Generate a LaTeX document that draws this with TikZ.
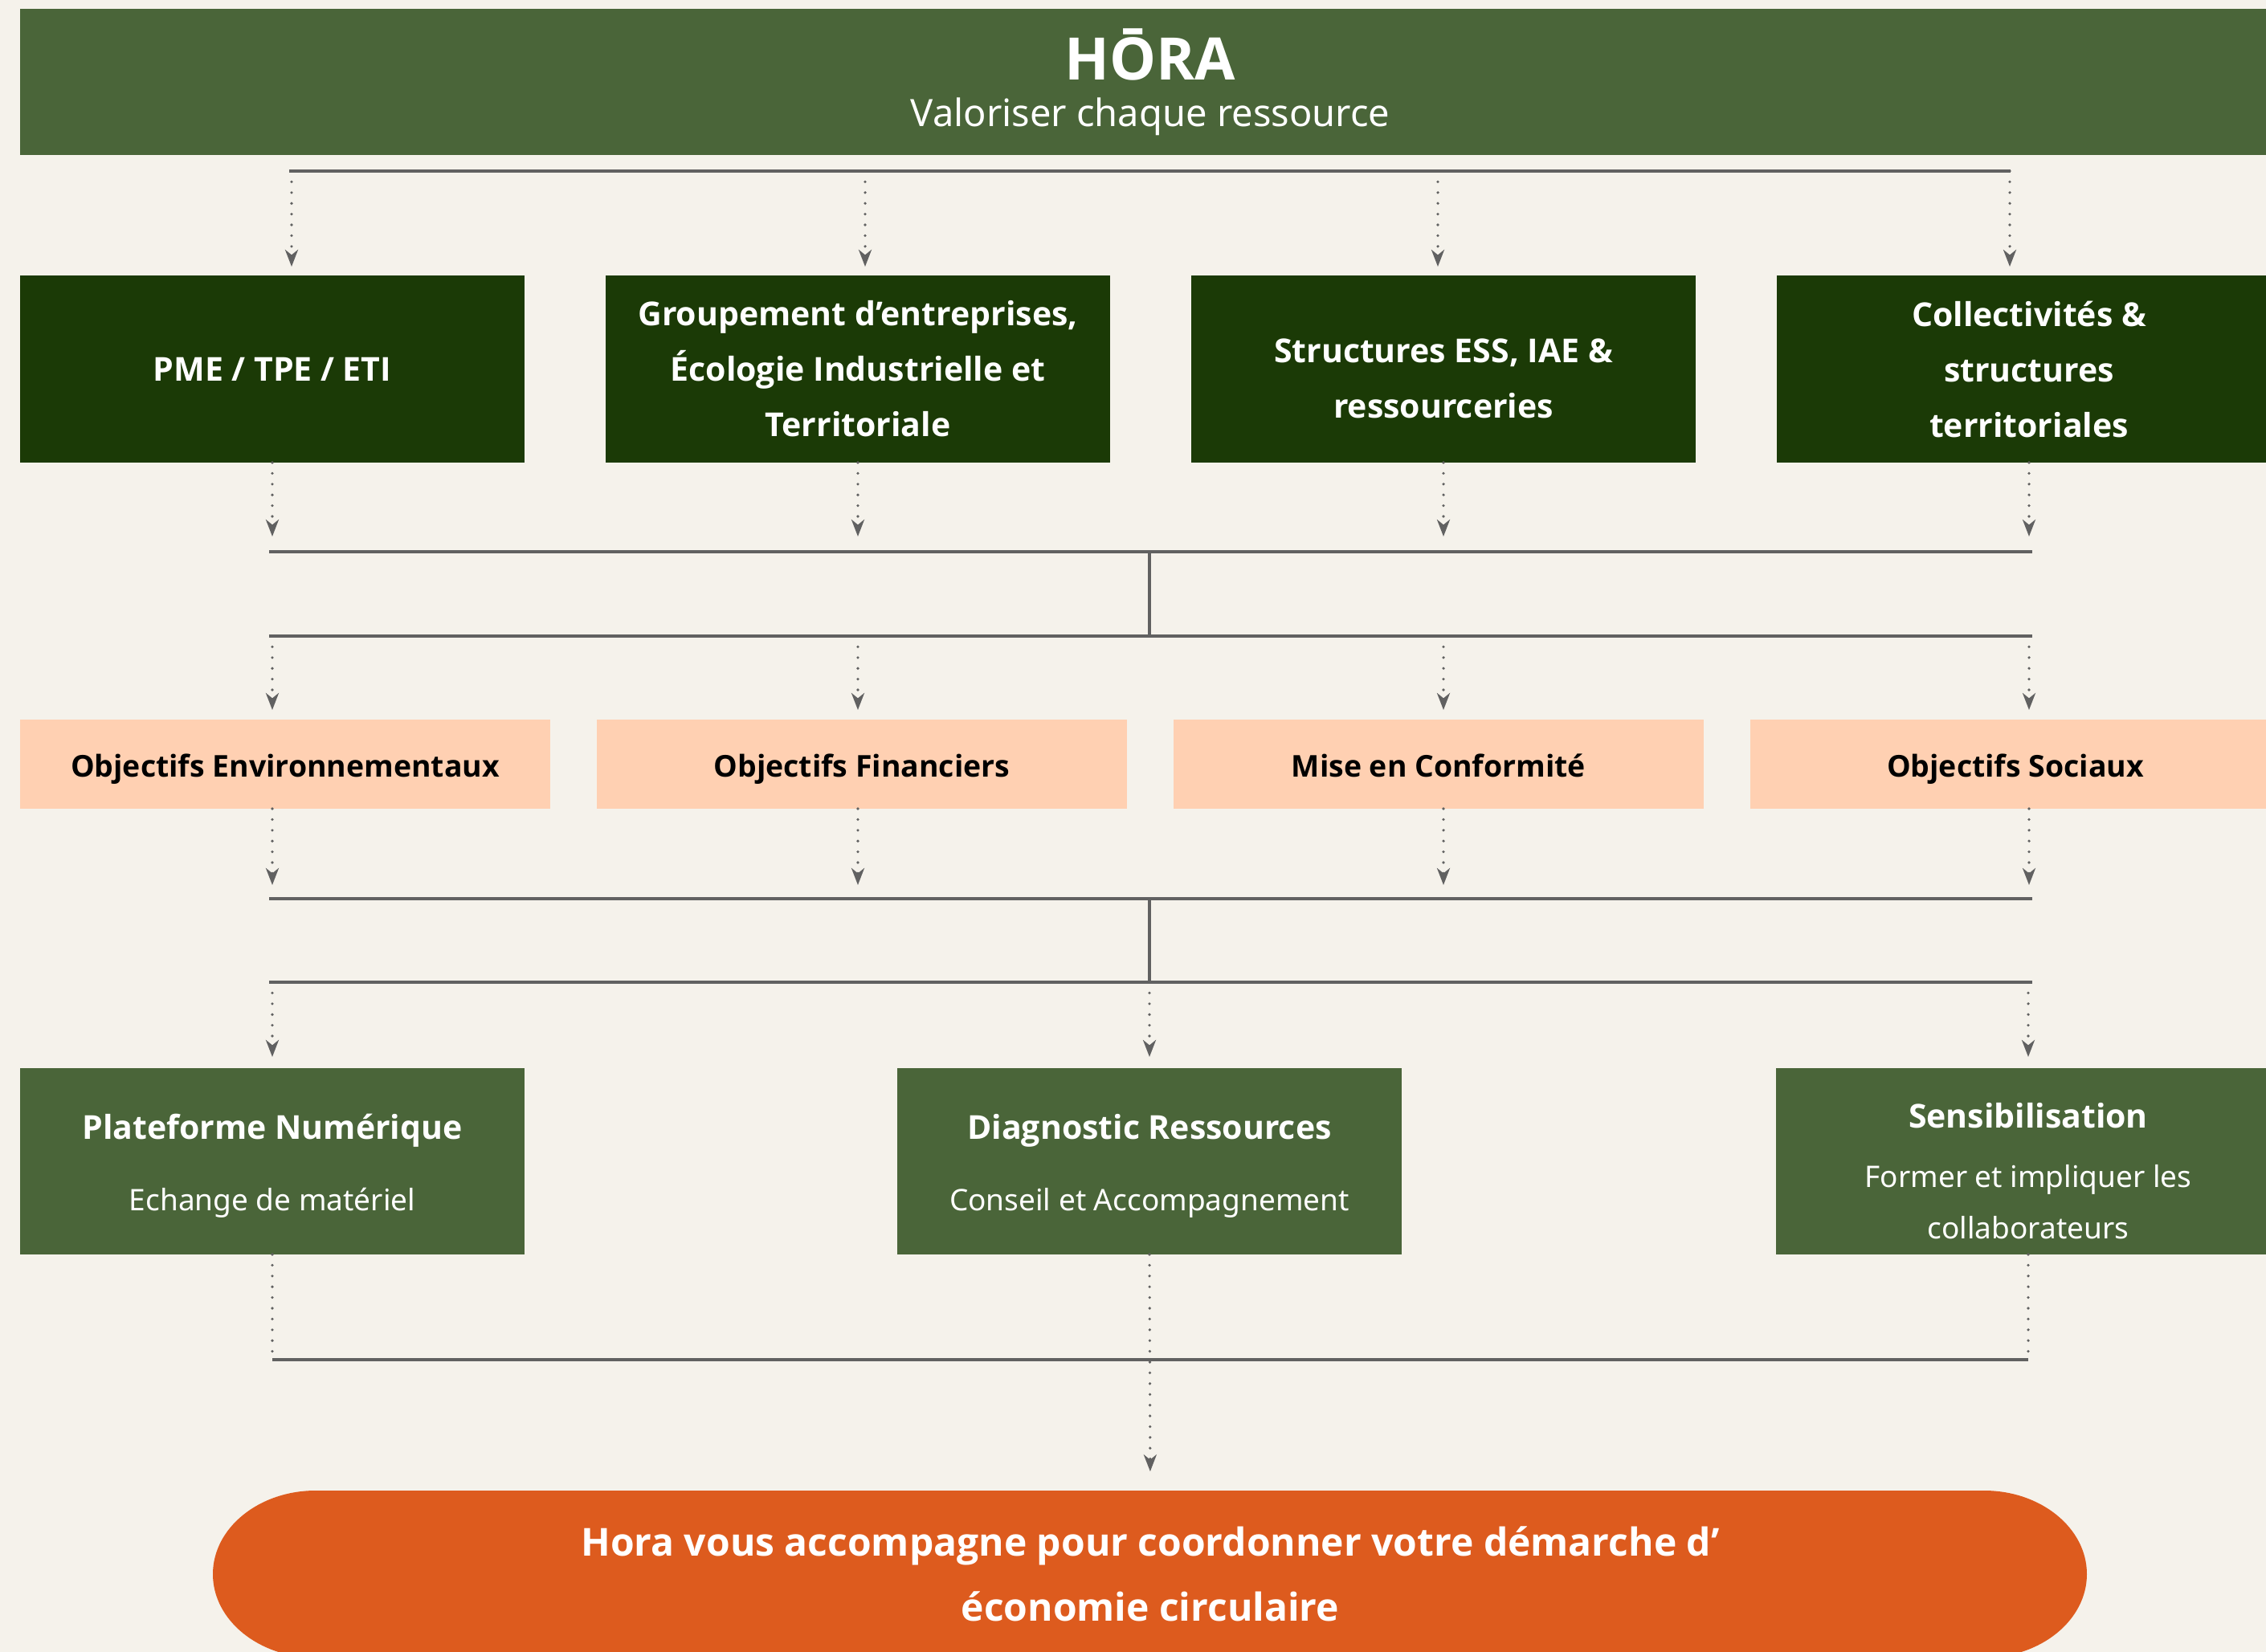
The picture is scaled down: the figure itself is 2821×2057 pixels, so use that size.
\documentclass[tikz,border=0pt]{standalone}
\usepackage{fontspec}
\setmainfont{Noto Sans}[BoldFont={Open Sans Bold}]
\usetikzlibrary{arrows.meta}
\usetikzlibrary{positioning}
\definecolor{paper}{HTML}{F5F2EB}
\definecolor{moss}{HTML}{4A6539}
\definecolor{forest}{HTML}{1B3A06}
\definecolor{peach}{HTML}{FFD0B2}
\definecolor{rust}{HTML}{DD5B1E}
\definecolor{wire}{HTML}{616161}
\tikzstyle{head_box} = [
    rectangle,
    fill=moss,
    inner sep=0pt,
    outer sep=0pt,
    minimum width=703.75pt,
    minimum height=45.5pt
]
\tikzstyle{actor_box} = [
    rectangle,
    fill=forest,
    text=white,
    font=\bfseries\fontsize{10.25pt}{17.25pt}\selectfont,
    align=center,
    inner sep=0pt,
    outer sep=0pt,
    minimum width=157pt, % 628px boxes
    minimum height=58.25pt
]
\tikzstyle{goal_box} = [
    rectangle,
    fill=peach,
    text=black,
    font=\bfseries\fontsize{9.35pt}{12pt}\selectfont,
    inner sep=0pt,
    outer sep=0pt,
    text height=10.7pt,
    text depth=2.5pt,
    minimum width=165pt,
    minimum height=27.75pt
]
\tikzstyle{tool_box} = [
    rectangle,
    fill=moss,
    text=white,
    font=\fontsize{10.25pt}{16pt}\selectfont,
    align=center,
    inner sep=0pt,
    outer sep=0pt,
    minimum width=157pt,
    minimum height=58pt
]
\tikzstyle{bus_line} = [draw=wire, line width=0.85pt]
\tikzstyle{dot_line} = [
    draw=wire,
    line width=0.9pt,
    line cap=round,
    dash pattern=on 0pt off 3.35pt
]
\tikzstyle{dot_arrow} = [
    dot_line,
    -{Stealth[length=5.25pt, width=4pt, inset=1.6pt]}
]
\newcommand{\subline}{\fontsize{9.25pt}{16pt}\selectfont}

\begin{document}
\begin{tikzpicture}[x=0.25pt, y=-0.25pt]
\fill[paper] (0,0) rectangle (2821,2057);
\useasboundingbox (0,0) rectangle (2821,2057);

% header
\node [head_box] (hora) at (1432.5,102) {};
\node [anchor=base, text=white, font=\bfseries\fontsize{18.25pt}{22pt}\selectfont] (hora_title) at (1432,99) {HŌRA};
\node [anchor=base, text=white, font=\fontsize{11.75pt}{14pt}\selectfont] (hora_sub) at (1432,157) {Valoriser chaque ressource};

% who
\node [actor_box] (pme) at (339,459.5) {PME / TPE / ETI};
\node [actor_box, right=25.25pt of pme] (geit) {Groupement d’entreprises,\\Écologie Industrielle et\\Territoriale};
\node [actor_box, right=25.25pt of geit] (ess) {\rule{0pt}{13.5pt}Structures ESS, IAE \&\\ressourceries};
\node [actor_box, right=25.25pt of ess] (coll) {Collectivités \&\\structures\\territoriales};

% why
\node [goal_box] (env) at (355,951.5) {Objectifs Environnementaux};
\node [goal_box, right=14.5pt of env] (fin) {Objectifs Financiers};
\node [goal_box, right=14.5pt of fin] (conf) {Mise en Conformité};
\node [goal_box, right=14.5pt of conf] (soc) {Objectifs Sociaux};

% how
\node [tool_box] (plat) at (339,1446) {\rule{0pt}{10.5pt}{\bfseries Plateforme Numérique}\\[6.25pt]{\subline Echange de matériel}};
\node [tool_box, right=116pt of plat] (diag) {\rule{0pt}{10.5pt}{\bfseries Diagnostic Ressources}\\[6.25pt]{\subline Conseil et Accompagnement}};
\node [tool_box, right=116.5pt of diag] (sens) {\rule{0pt}{13.6pt}{\bfseries Sensibilisation}\\[2.5pt]{\subline Former et impliquer les}\\{\subline collaborateurs}};

% outcome
\fill[rust] (393,1856) -- (2470,1856)
    arc[start angle=-90, end angle=90, x radius=128, y radius=104]
    -- (393,2064)
    arc[start angle=90, end angle=270, x radius=128, y radius=104] -- cycle;
\node [text=white, align=center, inner sep=0pt, minimum height=52pt,
    font=\bfseries\fontsize{12pt}{20.25pt}\selectfont] (pill) at (1432,1960)
    {Hora vous accompagne pour coordonner votre démarche d’\\économie circulaire};

% buses
\coordinate (drop_a) at (363,213);
\coordinate (drop_b) at (1077,213);
\coordinate (drop_c) at (1790,213);
\coordinate (drop_d) at (2502,213);
\coordinate (bus_a) at (0,687);
\coordinate (bus_b) at (0,792);
\coordinate (bus_c) at (0,1119);
\coordinate (bus_d) at (0,1223);
\coordinate (bus_e) at (0,1693);

\draw [bus_line] ([xshift=-0.75pt]drop_a) -- ([xshift=0.25pt]drop_d);
\draw [dot_arrow, shorten >=2.75pt] (drop_a) -- (drop_a |- pme.north);
\draw [dot_arrow, shorten >=2.75pt] (drop_b) -- (drop_b |- geit.north);
\draw [dot_arrow, shorten >=2.75pt] (drop_c) -- (drop_c |- ess.north);
\draw [dot_arrow, shorten >=2.75pt] (drop_d) -- (drop_d |- coll.north);

\draw [dot_arrow, shorten >=4.75pt] (pme.south) -- (pme.south |- bus_a);
\draw [dot_arrow, shorten >=4.75pt] (geit.south) -- (geit.south |- bus_a);
\draw [dot_arrow, shorten >=4.75pt] (ess.south) -- (ess.south |- bus_a);
\draw [dot_arrow, shorten >=4.75pt] (coll.south) -- (coll.south |- bus_a);

\draw [bus_line] ([xshift=-1pt]pme.south |- bus_a) -- ([xshift=1pt]coll.south |- bus_a);
\draw [bus_line] (diag.north |- bus_a) -- (diag.north |- bus_b);
\draw [bus_line] ([xshift=-1pt]pme.south |- bus_b) -- ([xshift=1pt]coll.south |- bus_b);

\draw [dot_arrow, shorten >=3pt] (pme.south |- bus_b) -- (pme.south |- env.north);
\draw [dot_arrow, shorten >=3pt] (geit.south |- bus_b) -- (geit.south |- fin.north);
\draw [dot_arrow, shorten >=3pt] (ess.south |- bus_b) -- (ess.south |- conf.north);
\draw [dot_arrow, shorten >=3pt] (coll.south |- bus_b) -- (coll.south |- soc.north);

\draw [dot_arrow, shorten >=4.25pt] (env.south -| pme.south) -- (pme.south |- bus_c);
\draw [dot_arrow, shorten >=4.25pt] (fin.south -| geit.south) -- (geit.south |- bus_c);
\draw [dot_arrow, shorten >=4.25pt] (conf.south -| ess.south) -- (ess.south |- bus_c);
\draw [dot_arrow, shorten >=4.25pt] (soc.south -| coll.south) -- (coll.south |- bus_c);

\draw [bus_line] ([xshift=-1pt]pme.south |- bus_c) -- ([xshift=1pt]coll.south |- bus_c);
\draw [bus_line] (diag.north |- bus_c) -- (diag.north |- bus_d);
\draw [bus_line] ([xshift=-1pt]pme.south |- bus_d) -- ([xshift=1pt]coll.south |- bus_d);

\draw [dot_arrow, shorten >=3.5pt] (plat.north |- bus_d) -- (plat.north);
\draw [dot_arrow, shorten >=3.5pt] (diag.north |- bus_d) -- (diag.north);
\draw [dot_arrow, shorten >=3.5pt] (sens.north |- bus_d) -- (sens.north);

\draw [dot_line] (plat.south) -- (plat.south |- bus_e);
\draw [dot_line] (sens.south) -- (sens.south |- bus_e);
\draw [bus_line] (plat.south |- bus_e) -- (sens.south |- bus_e);
\draw [dot_arrow, shorten >=5.75pt] (diag.south) -- (pill.north);
\end{tikzpicture}
\end{document}
